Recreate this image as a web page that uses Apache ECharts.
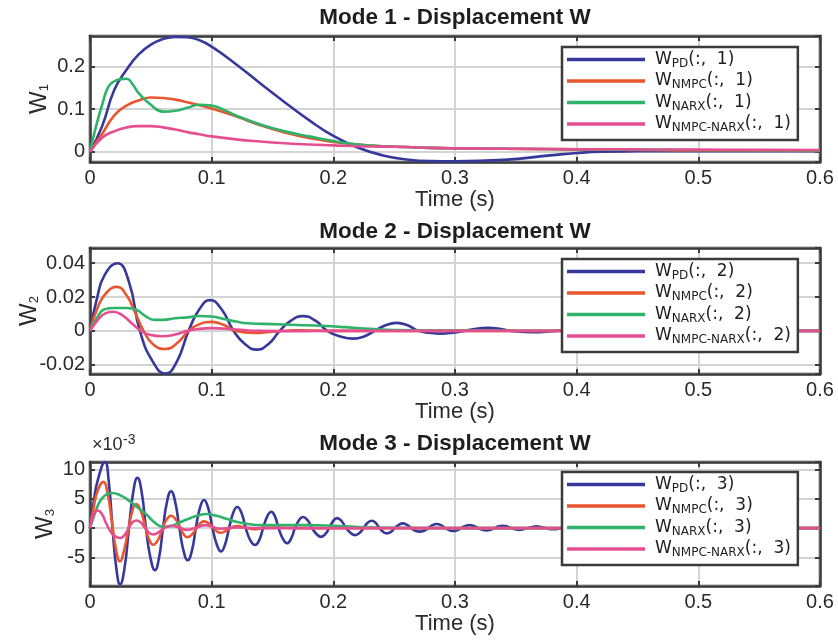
<!DOCTYPE html>
<html><head><meta charset="utf-8">
<script src="https://cdn.jsdelivr.net/npm/echarts@6/dist/echarts.min.js"></script>
<style>html,body{margin:0;padding:0;background:#fff}#c{width:838px;height:640px}</style>
</head><body><div id="c"></div>
<script>
// ---------- Titles / labels ----------
const plotTitles = ['Mode 1 - Displacement W', 'Mode 2 - Displacement W', 'Mode 3 - Displacement W'];
const yNames = ['1', '2', '3'];
const xName = 'Time (s)';
const seriesKeys = ['PD', 'NMPC', 'NARX', 'NMPC-NARX'];
const seriesColors = ['#36399a', '#e8552e', '#2fb36a', '#e54f91'];

// ---------- Mode 1 ----------
const t1 = [0,0.01,0.02,0.03,0.04,0.05,0.06,0.07,0.08,0.09,0.10,0.12,0.14,0.16,0.18,0.20,0.22,0.24,0.26,0.28,0.30,0.34,0.38,0.40,0.42,0.45,0.50,0.55,0.60];
const pd1 = [0,0.06,0.145,0.192,0.228,0.251,0.264,0.269,0.268,0.261,0.246,0.205,0.160,0.116,0.074,0.037,0.010,-0.008,-0.018,-0.022,-0.0225,-0.019,-0.008,-0.003,0.0,0.001,0.0015,0.001,0.001];
const nmpc1 = [0,0.042,0.085,0.108,0.12,0.127,0.126,0.122,0.116,0.109,0.101,0.083,0.062,0.045,0.032,0.023,0.017,0.013,0.011,0.009,0.008,0.007,0.006,0.005,0.005,0.004,0.003,0.003,0.002];
const nn1 = [0,0.033,0.048,0.057,0.06,0.06,0.057,0.052,0.046,0.041,0.036,0.029,0.024,0.02,0.017,0.015,0.013,0.012,0.011,0.009,0.008,0.007,0.0065,0.006,0.006,0.0055,0.005,0.0045,0.004];
const tNarx1 = [0,0.005,0.01,0.015,0.02,0.025,0.03,0.035,0.04,0.05,0.06,0.07,0.08,0.09,0.10,0.11,0.12,0.14,0.16,0.18,0.20,0.22,0.24,0.26,0.28,0.30,0.35,0.40,0.50,0.60];
const narx1 = [0,0.06,0.11,0.152,0.165,0.17,0.171,0.158,0.137,0.11,0.094,0.096,0.103,0.11,0.108,0.098,0.085,0.064,0.048,0.036,0.025,0.017,0.013,0.011,0.009,0.008,0.007,0.006,0.004,0.003];

// ---------- Mode 2 ([time, value]) ----------
const pd2 = [[0,0],[0.006,0.02],[0.012,0.033],[0.0225,0.040],[0.032,0.029],[0.041,0],[0.0515,-0.018],[0.062,-0.0253],[0.0715,-0.018],[0.081,0],[0.09,0.0129],[0.0986,0.0182],[0.108,0.0129],[0.118,0],[0.1275,-0.0079],[0.137,-0.0111],[0.1465,-0.0079],[0.156,0],[0.1655,0.0062],[0.175,0.0087],[0.185,0.0062],[0.195,0],[0.2058,-0.0033],[0.2165,-0.0046],[0.2253,-0.0033],[0.234,0],[0.243,0.0033],[0.252,0.0047],[0.261,0.0033],[0.27,0],[0.279,-0.0011],[0.288,-0.0016],[0.298,-0.0011],[0.308,0],[0.3175,0.0013],[0.327,0.0018],[0.3365,0.0013],[0.346,0],[0.364,-0.0008],[0.383,0],[0.40,0.0006],[0.42,0],[0.44,-0.0003],[0.46,0],[0.5,0.0002],[0.55,0],[0.6,0]];
const nmpc2 = [[0,0],[0.007,0.015],[0.014,0.023],[0.022,0.026],[0.03,0.021],[0.037,0.011],[0.044,0.0],[0.052,-0.008],[0.062,-0.0107],[0.072,-0.007],[0.081,0.0],[0.09,0.004],[0.10,0.0053],[0.11,0.0035],[0.12,0.0],[0.135,-0.0012],[0.15,-0.0005],[0.17,0.0003],[0.2,0],[0.3,0],[0.4,0],[0.5,0],[0.6,0]];
const narx2 = [[0,0],[0.006,0.008],[0.012,0.0128],[0.02,0.0135],[0.03,0.0135],[0.038,0.0125],[0.045,0.009],[0.053,0.0065],[0.06,0.0065],[0.07,0.0075],[0.08,0.008],[0.09,0.0088],[0.1,0.0085],[0.11,0.007],[0.12,0.0055],[0.13,0.0045],[0.15,0.004],[0.17,0.0035],[0.19,0.003],[0.21,0.0022],[0.23,0.0012],[0.25,0.0005],[0.3,0.0002],[0.4,0],[0.5,0],[0.6,0]];
const nn2 = [[0,0],[0.007,0.007],[0.013,0.0105],[0.019,0.0113],[0.027,0.009],[0.035,0.004],[0.042,0.0],[0.05,-0.0025],[0.059,-0.0032],[0.07,-0.0022],[0.08,0.0],[0.09,0.0012],[0.1,0.0016],[0.12,0.0008],[0.14,0.0],[0.17,-0.0002],[0.2,0],[0.3,0],[0.4,0],[0.5,0],[0.6,0]];

// ---------- Mode 3 ([time, value in units of 1e-3]) ----------
const pd3 = [[0,0],[0.003,4.5],[0.0065,8.3],[0.0123,11.3],[0.0154,8.0],[0.0185,0],[0.0216,-6.8],[0.0247,-9.6],[0.0284,-6.8],[0.032,0],[0.0355,6.1],[0.039,8.6],[0.0425,6.1],[0.046,0],[0.0497,-5.1],[0.0534,-7.2],[0.0567,-5.1],[0.060,0],[0.0633,4.5],[0.0666,6.3],[0.0700,4.5],[0.0735,0],[0.0769,-3.9],[0.0803,-5.5],[0.0837,-3.9],[0.087,0],[0.0903,3.4],[0.0937,4.8],[0.0972,3.4],[0.1007,0],[0.1042,-2.8],[0.1077,-4.0],[0.111,-2.8],[0.1143,0],[0.1177,2.6],[0.121,3.6],[0.1245,2.6],[0.128,0],[0.1318,-2.1],[0.1356,-2.9],[0.139,-2.1],[0.1423,0],[0.1457,2.0],[0.149,2.8],[0.152,2.0],[0.155,0],[0.1585,-1.8],[0.162,-2.6],[0.1653,-1.8],[0.1685,0],[0.1718,1.35],[0.175,1.9],[0.1788,1.35],[0.1825,0],[0.1863,-1.05],[0.190,-1.5],[0.1933,-1.05],[0.1965,0],[0.1998,1.2],[0.203,1.7],[0.2068,1.2],[0.2105,0],[0.2143,-0.85],[0.218,-1.2],[0.2214,-0.85],[0.2248,0],[0.2282,0.9],[0.2315,1.25],[0.2348,0.9],[0.238,0],[0.241,-0.65],[0.244,-0.9],[0.2473,-0.65],[0.2505,0],[0.2538,0.55],[0.257,0.8],[0.2605,0.55],[0.264,0],[0.2675,-0.45],[0.271,-0.6],[0.2745,-0.45],[0.278,0],[0.2815,0.5],[0.285,0.7],[0.2885,0.5],[0.292,0],[0.2953,-0.35],[0.2986,-0.5],[0.3018,-0.35],[0.305,0],[0.3085,0.35],[0.312,0.5],[0.3155,0.35],[0.319,0],[0.3225,-0.3],[0.326,-0.4],[0.3293,-0.3],[0.3325,0],[0.3358,0.3],[0.339,0.4],[0.3425,0.3],[0.346,0],[0.3495,-0.2],[0.353,-0.3],[0.3565,-0.2],[0.36,0],[0.3635,0.2],[0.367,0.3],[0.3705,0.2],[0.374,0],[0.381,-0.2],[0.388,0],[0.395,0.2],[0.402,0],[0.409,-0.15],[0.43,0],[0.46,0],[0.5,0],[0.55,0],[0.6,0]];
const nmpc3 = [[0,0],[0.003,3.5],[0.006,6.2],[0.011,7.9],[0.0145,5.9],[0.018,1.1],[0.0214,-3.7],[0.0247,-5.7],[0.028,-3.8],[0.031,-0.8],[0.0345,2.7],[0.038,4.1],[0.0415,3.1],[0.045,0.6],[0.0485,-1.9],[0.052,-2.85],[0.0557,-2.1],[0.059,-0.4],[0.0628,1.4],[0.0666,2.1],[0.0700,1.6],[0.0735,0.3],[0.0768,-1.0],[0.080,-1.55],[0.0835,-1.15],[0.087,-0.2],[0.0903,0.75],[0.0937,1.15],[0.0972,0.9],[0.1007,0.2],[0.104,-0.5],[0.107,-0.8],[0.1105,-0.6],[0.114,-0.2],[0.1175,0.2],[0.121,0.35],[0.128,0.05],[0.135,-0.2],[0.142,0],[0.15,0.1],[0.17,0],[0.2,0],[0.3,0],[0.4,0],[0.5,0],[0.6,0]];
const narx3 = [[0,0],[0.004,2.5],[0.008,4.5],[0.013,5.7],[0.018,6.0],[0.025,5.6],[0.032,4.7],[0.04,3.4],[0.047,2.2],[0.054,0.8],[0.06,0.2],[0.066,0.3],[0.072,0.8],[0.08,1.5],[0.088,2.1],[0.096,2.4],[0.104,2.1],[0.112,1.6],[0.12,1.1],[0.13,0.7],[0.14,0.5],[0.16,0.5],[0.18,0.5],[0.2,0.4],[0.22,0.2],[0.25,0.05],[0.3,0],[0.4,0],[0.5,0],[0.6,0]];
const nn3 = [[0,0],[0.003,2.2],[0.006,3.0],[0.0095,2.5],[0.0135,0.7],[0.018,-0.9],[0.0215,-1.5],[0.025,-1.7],[0.028,-1.3],[0.031,-0.3],[0.0345,0.9],[0.038,1.3],[0.0415,1.0],[0.045,0.1],[0.0485,-0.8],[0.052,-1.1],[0.0555,-0.8],[0.059,-0.3],[0.063,0.2],[0.0666,0.4],[0.073,0.1],[0.08,-0.3],[0.0875,0.1],[0.095,0.5],[0.101,0.2],[0.107,-0.1],[0.12,0.1],[0.14,0],[0.2,0],[0.3,0],[0.4,0],[0.5,0],[0.6,0]];

// axis ranges
const xMin = 0, xMax = 0.6, xStep = 0.1;
const yMins = [-0.024, -0.0255, -9.9];
const yMaxs = [0.271, 0.049, 11.3];
const ySplits = [3, 4, 4];

const pair = (xs, ys) => xs.map((x, i) => [x, ys[i]]);
const plotData = [
  [pair(t1, pd1), pair(t1, nmpc1), pair(tNarx1, narx1), pair(t1, nn1)],
  [pd2, nmpc2, narx2, nn2],
  [pd3, nmpc3, narx3, nn3]
];

// ---------- layout ----------
const gridTops = [36, 248, 462];
const gridHeights = [126, 126, 124];
const titleY = [17.5, 231.5, 443.5];
const yNameGaps = [39, 49, 33];
const legendTops = [47, 259, 472];
const frame = '#3b3b3b';
const tickFont = 'Liberation Sans, Arial, sans-serif';

const sName = (k, p) => 'W_' + k + '(:,  ' + (p + 1) + ')';

const grid = [], xAxis = [], yAxis = [], series = [], legend = [], graphic = [];
for (let p = 0; p < 3; p++) {
  grid.push({ left: 90, top: gridTops[p], width: 730, height: gridHeights[p], outerBoundsMode: 'none',
    show: true, borderColor: frame, borderWidth: 2.5, backgroundColor: '#fff' });
  const tick = { show: true, inside: true, length: 5, lineStyle: { color: frame, width: 2 } };
  const aLine = { show: true, onZero: false, lineStyle: { color: frame, width: 2.5 } };
  const split = { show: true, lineStyle: { color: '#d4d4d4', width: 2 } };
  xAxis.push({ type: 'value', gridIndex: p, min: xMin, max: xMax, interval: xStep, position: 'bottom',
    axisLine: aLine, axisTick: tick, splitLine: split,
    axisLabel: { color: '#2a2a2a', fontSize: 20, fontFamily: tickFont, margin: 6 },
    name: xName, nameLocation: 'middle', nameGap: 27, nameMoveOverlap: false,
    nameTextStyle: { color: '#2a2a2a', fontSize: 22, fontFamily: tickFont } });
  xAxis.push({ type: 'value', gridIndex: p, min: xMin, max: xMax, interval: xStep, position: 'top',
    axisLine: aLine, axisTick: tick, splitLine: { show: false }, axisLabel: { show: false } });
  yAxis.push({ type: 'value', gridIndex: p, min: yMins[p], max: yMaxs[p], splitNumber: ySplits[p], position: 'left',
    axisLine: aLine, axisTick: tick, splitLine: split,
    axisLabel: { color: '#2a2a2a', fontSize: 20, fontFamily: tickFont, margin: 5, showMinLabel: false, showMaxLabel: false },
    name: '{w|W}{s|' + yNames[p] + '}', nameLocation: 'middle', nameGap: yNameGaps[p], nameRotate: 90,
    nameMoveOverlap: false,
    nameTextStyle: { rich: {
      w: { fontSize: 24, fontFamily: tickFont, color: '#2a2a2a', lineHeight: 24 },
      s: { fontSize: 13, fontFamily: tickFont, color: '#2a2a2a', lineHeight: 12, verticalAlign: 'bottom' } } } });
  yAxis.push({ type: 'value', gridIndex: p, min: yMins[p], max: yMaxs[p], splitNumber: ySplits[p], position: 'right',
    axisLine: aLine, axisTick: tick, splitLine: { show: false }, axisLabel: { show: false } });

  const names = [];
  seriesKeys.forEach((k, s) => {
    const nm = sName(k, p);
    names.push(nm);
    series.push({ type: 'line', name: nm, xAxisIndex: 2 * p, yAxisIndex: 2 * p,
      data: plotData[p][s],
      showSymbol: false, symbol: 'none', smooth: 0.5, clip: true,
      color: seriesColors[s], itemStyle: { color: seriesColors[s] },
      lineStyle: { color: seriesColors[s], width: 2.6 }, animation: false });
  });
  legend.push({ data: names, orient: 'vertical', align: 'left', left: 562, top: legendTops[p],
    padding: [4, 7, 6, 5], itemGap: 3, itemWidth: 78, itemHeight: 3.5, icon: 'rect',
    backgroundColor: '#fff', borderColor: frame, borderWidth: 2.5, borderRadius: 0, selectedMode: false,
    formatter: function (name) {
      const m = name.match(/^W_([^()]+)(\(.*\))$/);
      return '{w|W}{s|' + m[1] + '}{t|' + m[2] + '}';
    },
    textStyle: { rich: {
      w: { fontSize: 17, fontFamily: 'DejaVu Sans', color: '#1e1e1e', lineHeight: 20, padding: [0, 0, 0, 5] },
      s: { fontSize: 12, fontFamily: 'DejaVu Sans', color: '#1e1e1e', lineHeight: 14, verticalAlign: 'bottom' },
      t: { fontSize: 17, fontFamily: 'DejaVu Sans', color: '#1e1e1e', lineHeight: 20 } } } });

  graphic.push({ type: 'text', x: 455, y: titleY[p], z: 10,
    style: { text: plotTitles[p], fill: '#1e1e1e', font: 'bold 22.5px "Liberation Sans", Arial, sans-serif',
      align: 'center', verticalAlign: 'middle' } });
}
graphic.push({ type: 'text', x: 92, y: 445, style: { text: '×10', fill: '#2a2a2a',
  font: '18px "Liberation Sans", Arial, sans-serif', align: 'left', verticalAlign: 'middle' } });
graphic.push({ type: 'text', x: 123, y: 440, style: { text: '-3', fill: '#2a2a2a',
  font: '14px "Liberation Sans", Arial, sans-serif', align: 'left', verticalAlign: 'middle' } });

const chart = echarts.init(document.getElementById('c'), null, { renderer: 'canvas' });
chart.setOption({ animation: false, backgroundColor: '#fff', grid, xAxis, yAxis, series, legend, graphic });
</script></body></html>
